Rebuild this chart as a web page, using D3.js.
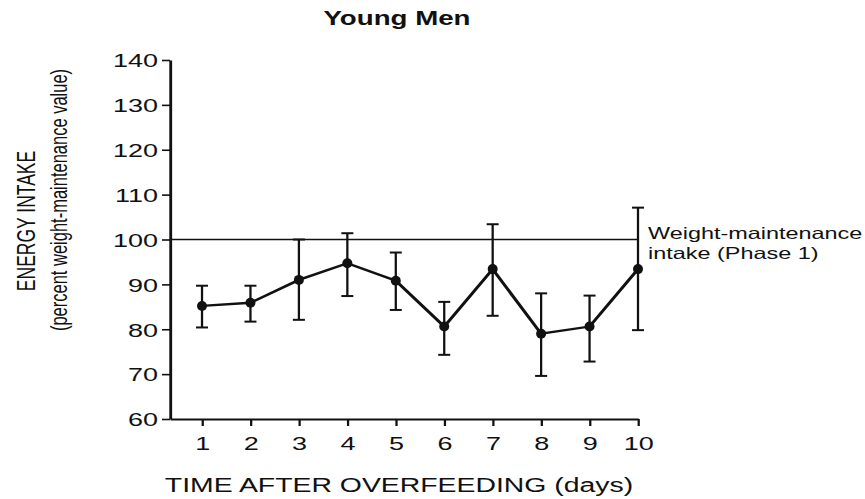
<!DOCTYPE html>
<html>
<head>
<meta charset="utf-8">
<script src="https://cdn.jsdelivr.net/npm/d3@7"></script>
<style>
  html, body { margin: 0; padding: 0; background: #fff; }
  svg { display: block; }
  text { font-family: "Liberation Sans", Arial, Helvetica, sans-serif; fill: #111; }
</style>
</head>
<body>
<svg id="chart"></svg>
<script>
// ---- data ----
const days = [1, 2, 3, 4, 5, 6, 7, 8, 9, 10];
const means = [85.2, 85.9, 91.0, 94.7, 90.8, 80.6, 93.4, 79.0, 80.6, 93.4];
const upper = [89.7, 89.7, 100.0, 101.4, 97.1, 86.1, 103.4, 88.0, 87.5, 107.1];
const lower = [80.4, 81.7, 82.1, 87.4, 84.3, 74.3, 83.0, 69.6, 72.8, 79.8];
const yTicks = [60, 70, 80, 90, 100, 110, 120, 130, 140];
const maintenance = [100];
const titleText = "Young Men";
const xTitle = "TIME AFTER OVERFEEDING (days)";
const yTitle1 = "ENERGY INTAKE";
const yTitle2 = "(percent weight-maintenance value)";
const refLabel = ["Weight-maintenance", "intake (Phase 1)"];

// ---- layout (reference is horizontally stretched) ----
const W = 865, H = 499, k = 1.42;
const IW = W / k;
const svg = d3.select("#chart")
  .attr("width", W).attr("height", H)
  .attr("viewBox", `0 0 ${IW} ${H}`)
  .attr("preserveAspectRatio", "none");

const x = d3.scaleLinear().domain([0.339, 10]).range([170 / k, 638 / k]);
const y = d3.scaleLinear().domain([60, 140]).range([419, 60]);

// title
svg.append("text")
  .attr("x", 397 / k).attr("y", 25)
  .attr("text-anchor", "middle")
  .style("font-weight", "bold").style("font-size", "19.5px")
  .text(titleText);

// y axis
const yAxis = svg.append("g")
  .attr("transform", `translate(${x(0.339)},0)`)
  .call(d3.axisLeft(y).tickValues(yTicks).tickSize(8 / k).tickPadding(4 / k).tickSizeOuter(0));
yAxis.select(".domain").attr("stroke", "#111").attr("stroke-width", 2);
yAxis.selectAll(".tick line").attr("stroke", "#111").attr("stroke-width", 1.6);
yAxis.selectAll(".tick text").style("font-size", "19px").attr("dy", "0.36em").attr("fill", "#111");

// x axis
const xAxis = svg.append("g")
  .attr("transform", `translate(0,${y(60)})`)
  .call(d3.axisBottom(x).tickValues(days).tickFormat(d3.format("d")).tickSize(7).tickPadding(11).tickSizeOuter(0));
xAxis.select(".domain").attr("stroke", "#111").attr("stroke-width", 2);
xAxis.selectAll(".tick line").attr("stroke", "#111").attr("stroke-width", 1.6);
xAxis.selectAll(".tick text").style("font-size", "19px").attr("fill", "#111");

// reference line
svg.selectAll(".ref").data(maintenance).enter().append("line")
  .attr("class", "ref")
  .attr("x1", x(0.339)).attr("x2", x(10))
  .attr("y1", d => y(d)).attr("y2", d => y(d))
  .attr("stroke", "#111").attr("stroke-width", 1.6);

const refText = svg.append("text")
  .attr("x", 648 / k).attr("y", 239)
  .style("font-size", "16.5px");
refText.append("tspan").attr("x", 648 / k).attr("y", 239).text(refLabel[0]);
refText.append("tspan").attr("x", 648 / k).attr("y", 259).text(refLabel[1]);

// error bars
const capW = 6 / k;
const eb = svg.append("g").attr("stroke", "#111").attr("fill", "none");
days.forEach((d, i) => {
  const g = eb.append("g");
  g.append("line").attr("x1", x(d)).attr("x2", x(d)).attr("y1", y(upper[i])).attr("y2", y(lower[i])).attr("stroke-width", 1.6);
  g.append("line").attr("x1", x(d) - capW).attr("x2", x(d) + capW).attr("y1", y(upper[i])).attr("y2", y(upper[i])).attr("stroke-width", 2);
  g.append("line").attr("x1", x(d) - capW).attr("x2", x(d) + capW).attr("y1", y(lower[i])).attr("y2", y(lower[i])).attr("stroke-width", 2);
});

// line
const pts = days.map((d, i) => [d, means[i]]);
svg.append("path")
  .datum(pts)
  .attr("fill", "none").attr("stroke", "#111").attr("stroke-width", 2.4)
  .attr("d", d3.line().x(p => x(p[0])).y(p => y(p[1])));

// points
svg.selectAll(".pt").data(pts).enter().append("ellipse")
  .attr("class", "pt")
  .attr("cx", p => x(p[0])).attr("cy", p => y(p[1]))
  .attr("rx", 5 / k).attr("ry", 5)
  .attr("fill", "#111");

// axis titles
svg.append("text")
  .attr("x", 399 / k).attr("y", 492)
  .attr("text-anchor", "middle")
  .style("font-size", "20px")
  .text(xTitle);

svg.append("text")
  .attr("transform", `translate(${35 / k},221) rotate(-90)`)
  .attr("text-anchor", "middle")
  .style("font-size", "17.5px")
  .text(yTitle1);

svg.append("text")
  .attr("transform", `translate(${67 / k},200) rotate(-90)`)
  .attr("text-anchor", "middle")
  .style("font-size", "16.5px")
  .text(yTitle2);
</script>
</body>
</html>
